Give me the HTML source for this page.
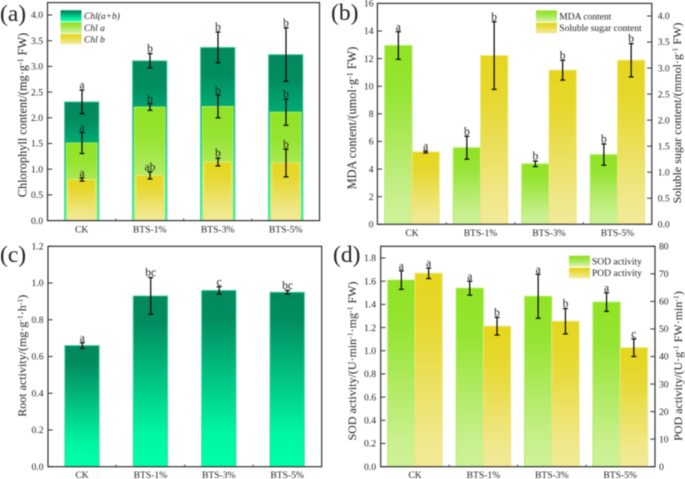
<!DOCTYPE html>
<html><head><meta charset="utf-8"><title>Chart</title>
<style>
html,body{margin:0;padding:0;background:#fff}
svg{display:block;filter:blur(0.4px)}
text{font-family:"Liberation Serif",serif;fill:#222}
</style></head>
<body>
<svg id="chart" xmlns="http://www.w3.org/2000/svg" width="685" height="479" viewBox="0 0 685 479">
<defs>
<linearGradient id="gDark" x1="0" y1="0" x2="0" y2="1"><stop offset="0" stop-color="#028a5e"/><stop offset="0.15" stop-color="#028c60"/><stop offset="0.8" stop-color="#00f5a3"/><stop offset="1" stop-color="#00ffaa"/></linearGradient>
<linearGradient id="gGreen" x1="0" y1="0" x2="0" y2="1"><stop offset="0" stop-color="#90e324"/><stop offset="0.25" stop-color="#96e432"/><stop offset="0.85" stop-color="#c8f08e"/><stop offset="1" stop-color="#cdf298"/></linearGradient>
<linearGradient id="gYellow" x1="0" y1="0" x2="0" y2="1"><stop offset="0" stop-color="#e5d61c"/><stop offset="0.25" stop-color="#e6d82e"/><stop offset="0.85" stop-color="#f0e88c"/><stop offset="1" stop-color="#f2ea98"/></linearGradient>
</defs>
</svg>
<script>
const categories = ['CK', 'BTS-1%', 'BTS-3%', 'BTS-5%'];

const chlTotal = [2.31, 3.11, 3.37, 3.23];
const chlTotalErr = [0.23, 0.14, 0.30, 0.52];
const chlTotalSig = ['a', 'b', 'b', 'b'];
const chlA = [1.51, 2.21, 2.22, 2.11];
const chlAErr = [0.205, 0.065, 0.22, 0.255];
const chlASig = ['a', 'b', 'b', 'b'];
const chlB = [0.80, 0.88, 1.14, 1.12];
const chlBErr = [0.03, 0.07, 0.075, 0.27];
const chlBSig = ['a', 'ab', 'b', 'b'];
const chlTicks = ['0.0', '0.5', '1.0', '1.5', '2.0', '2.5', '3.0', '3.5', '4.0'];

const mda = [12.95, 5.55, 4.38, 5.05];
const mdaErr = [1.0, 0.83, 0.2, 0.77];
const mdaSig = ['a', 'b', 'b', 'b'];
const sugar = [1.39, 3.24, 2.96, 3.15];
const sugarErr = [0.02, 0.65, 0.19, 0.32];
const sugarSig = ['a', 'b', 'b', 'b'];
const mdaTicks = ['0', '2', '4', '6', '8', '10', '12', '14', '16'];
const sugarTicks = ['0.0', '0.5', '1.0', '1.5', '2.0', '2.5', '3.0', '3.5', '4.0'];

const root = [0.66, 0.93, 0.96, 0.95];
const rootErr = [0.015, 0.10, 0.02, 0.01];
const rootSig = ['a', 'bc', 'c', 'bc'];
const rootTicks = ['0.0', '0.2', '0.4', '0.6', '0.8', '1.0', '1.2'];

const sod = [1.61, 1.54, 1.47, 1.42];
const sodErr = [0.08, 0.06, 0.19, 0.08];
const sodSig = ['a', 'a', 'a', 'a'];
const pod = [70.2, 51.0, 52.8, 43.2];
const podErr = [1.9, 3.2, 4.6, 3.2];
const podSig = ['a', 'b', 'b', 'c'];
const sodTicks = ['0.0', '0.2', '0.4', '0.6', '0.8', '1.0', '1.2', '1.4', '1.6', '1.8'];
const podTicks = ['0', '10', '20', '30', '40', '50', '60', '70', '80'];

const svg = document.getElementById('chart');
const NS = 'http://www.w3.org/2000/svg';
const TICK_COLOR = '#333';

function make(tag, name, attrs, txt) {
  const el = document.createElementNS(NS, tag);
  
  
  for (const k in attrs) el.setAttribute(k, attrs[k]);
  if (txt !== undefined) el.textContent = txt;
  svg.appendChild(el);
  return el;
}
function linearScale(d0, d1, r0, r1) {
  return v => r0 + (v - d0) * (r1 - r0) / (d1 - d0);
}
function frame(name, x0, y0, x1, y1) {
  make('rect', name + '-frame', {x: x0, y: y0, width: x1 - x0, height: y1 - y0, fill: 'none', stroke: TICK_COLOR, 'stroke-width': 1.2});
}
function xAxis(name, cx, y, baseline) {
  const step = cx(1) - cx(0);
  categories.forEach((c, i) => {
    make('text', name + '-x-label-' + c, {x: cx(i), y: baseline, 'text-anchor': 'middle', 'font-size': 9.6}, c);
    if (i < categories.length - 1) {
      make('line', name + '-x-tick-' + i, {x1: cx(i) + step / 2, x2: cx(i) + step / 2, y1: y, y2: y - 2, stroke: TICK_COLOR, 'stroke-width': 1});
    }
  });
}
function yAxis(name, ticks, scale, axisX, dir, labelX, anchor) {
  ticks.forEach(t => {
    const y = scale(parseFloat(t));
    make('line', name + '-tick-' + t, {x1: axisX, x2: axisX + dir * 4.7, y1: y, y2: y, stroke: TICK_COLOR, 'stroke-width': 1});
    make('text', name + '-tick-label-' + t, {x: labelX, y: y + 3.2, 'text-anchor': anchor, 'font-size': 9.6}, t);
  });
}
function bar(name, cx, w, v, scale, fill, edge) {
  const top = scale(v), base = scale(0);
  make('rect', name, {x: cx - w / 2, y: top, width: w, height: base - top, fill: 'url(#' + fill + ')', stroke: edge, 'stroke-width': 0.9});
}
function errorBar(name, cx, v, err, scale, sig) {
  const hi = scale(v + err), lo = scale(v - err);
  make('line', name + '-error-stem', {x1: cx, x2: cx, y1: hi, y2: lo, stroke: '#000', 'stroke-width': 1.2});
  make('line', name + '-error-cap-top', {x1: cx - 2.5, x2: cx + 2.5, y1: hi, y2: hi, stroke: '#000', 'stroke-width': 1.2});
  make('line', name + '-error-cap-bottom', {x1: cx - 2.5, x2: cx + 2.5, y1: lo, y2: lo, stroke: '#000', 'stroke-width': 1.2});
  make('text', name + '-significance', {x: cx, y: hi - 1.4, 'text-anchor': 'middle', 'font-size': 11.5}, sig);
}
function rotated(name, x, y, size, parts) {
  const t = make('text', name, {transform: 'translate(' + x + ',' + y + ') rotate(-90)', 'text-anchor': 'middle', 'font-size': size});
  let shift = 0;
  parts.forEach(p => {
    const s = document.createElementNS(NS, 'tspan');
    s.textContent = p[0];
    const sup = p[1] === 1;
    const dy = sup ? -3.5 : 0;
    s.setAttribute('dy', dy - shift);
    shift = dy;
    if (sup) s.setAttribute('font-size', size * 0.65);
    t.appendChild(s);
  });
  return t;
}
function panelLabel(name, x, y, txt) {
  make('text', name, {x: x, y: y, 'font-size': 23.5}, txt);
}
function legendEntry(name, x, y, w, h, fill, tx, ty, txt, italic) {
  make('rect', name + '-swatch', {x: x, y: y, width: w, height: h, fill: 'url(#' + fill + ')'});
  const a = {x: tx, y: ty, 'font-size': 9.5};
  if (italic) a['font-style'] = 'italic';
  make('text', name + '-label', a, txt);
}

/* Panel (a) */
(function () {
  const y = linearScale(0, 4, 220.6, 15);
  const cx = i => 81.7 + 68 * i;
  categories.forEach((c, i) => {
    bar('chl-total-bar-' + c, cx(i), 34.5, chlTotal[i], y, 'gDark', '#5cd2ae');
    bar('chl-a-bar-' + c, cx(i), 31, chlA[i], y, 'gGreen', '#b4ec66');
    bar('chl-b-bar-' + c, cx(i), 27.5, chlB[i], y, 'gYellow', '#efe67a');
  });
  categories.forEach((c, i) => {
    errorBar('chl-total-' + c, cx(i) + 0.3, chlTotal[i], chlTotalErr[i], y, chlTotalSig[i]);
    errorBar('chl-a-' + c, cx(i) + 0.3, chlA[i], chlAErr[i], y, chlASig[i]);
    errorBar('chl-b-' + c, cx(i) + 0.3, chlB[i], chlBErr[i], y, chlBSig[i]);
  });
  frame('panel-a', 47.5, 2.6, 319.5, 220.6);
  xAxis('panel-a', cx, 220.6, 232.5);
  yAxis('panel-a-y', chlTicks, y, 47.5, 1, 43, 'end');
  rotated('panel-a-y-title', 26.5, 115, 12.3, [['Chlorophyll content/(mg·g'], ['-1', 1], [' FW)']]);
  panelLabel('panel-a-label', 0, 21, '(a)');
  legendEntry('legend-chl-total', 60.5, 10.2, 21, 11, 'gDark', 84, 19, 'Chl(a+b)', true);
  legendEntry('legend-chl-a', 60.5, 22.2, 21, 11, 'gGreen', 84, 31, 'Chl a', true);
  legendEntry('legend-chl-b', 60.5, 34, 21, 10.2, 'gYellow', 84, 42.5, 'Chl b', true);
})();

/* Panel (b) */
(function () {
  const yL = linearScale(0, 16, 224.3, 3.4);
  const yR = linearScale(0, 4, 224.3, 16);
  const cx = i => 412 + 68.5 * i;
  const w = 27.3;
  categories.forEach((c, i) => {
    bar('mda-bar-' + c, cx(i) - w / 2, w, mda[i], yL, 'gGreen', '#b4ec66');
    bar('sugar-bar-' + c, cx(i) + w / 2, w, sugar[i], yR, 'gYellow', '#efe67a');
    errorBar('mda-' + c, cx(i) - w / 2, mda[i], mdaErr[i], yL, mdaSig[i]);
    errorBar('sugar-' + c, cx(i) + w / 2, sugar[i], sugarErr[i], yR, sugarSig[i]);
  });
  frame('panel-b', 377.4, 3.4, 651.8, 224.3);
  xAxis('panel-b', cx, 224.3, 236);
  yAxis('panel-b-left-y', mdaTicks, yL, 377.4, 1, 373.5, 'end');
  yAxis('panel-b-right-y', sugarTicks, yR, 651.8, -1, 657.7, 'start');
  rotated('panel-b-left-title', 356, 118, 12.3, [['MDA content/(umol·g'], ['-1', 1], [' FW)']]);
  rotated('panel-b-right-title', 681, 113, 12, [['Soluble sugar content/(mmol·g'], ['-1', 1], [' FW)']]);
  panelLabel('panel-b-label', 331, 20, '(b)');
  legendEntry('legend-mda', 536, 10.4, 21, 11.2, 'gGreen', 559.3, 19.5, 'MDA content', false);
  legendEntry('legend-sugar', 536, 22.7, 21, 10.6, 'gYellow', 559.3, 31, 'Soluble sugar content', false);
})();

/* Panel (c) */
(function () {
  const y = linearScale(0, 1.2, 466.7, 246.3);
  const cx = i => 82 + 68.4 * i;
  categories.forEach((c, i) => {
    bar('root-bar-' + c, cx(i), 34.5, root[i], y, 'gDark', '#5cd2ae');
    errorBar('root-' + c, cx(i) + 0.3, root[i], rootErr[i], y, rootSig[i]);
  });
  frame('panel-c', 48, 246.3, 321.7, 466.7);
  xAxis('panel-c', cx, 466.7, 478);
  yAxis('panel-c-y', rootTicks, y, 48, 1, 43.5, 'end');
  rotated('panel-c-y-title', 26, 355.7, 12, [['Root activity/(mg·g'], ['-1', 1], ['·h'], ['-1', 1], [')']]);
  panelLabel('panel-c-label', 0, 262, '(c)');
})();

/* Panel (d) */
(function () {
  const yL = linearScale(0, 1.8, 466.7, 258);
  const yR = linearScale(0, 80, 466.7, 246.3);
  const cx = i => 415 + 68.4 * i;
  const w = 27.3;
  categories.forEach((c, i) => {
    bar('sod-bar-' + c, cx(i) - w / 2, w, sod[i], yL, 'gGreen', '#b4ec66');
    bar('pod-bar-' + c, cx(i) + w / 2, w, pod[i], yR, 'gYellow', '#efe67a');
    errorBar('sod-' + c, cx(i) - w / 2, sod[i], sodErr[i], yL, sodSig[i]);
    errorBar('pod-' + c, cx(i) + w / 2, pod[i], podErr[i], yR, podSig[i]);
  });
  frame('panel-d', 380.7, 246.3, 655, 466.7);
  xAxis('panel-d', cx, 466.7, 478);
  yAxis('panel-d-left-y', sodTicks, yL, 380.7, 1, 376, 'end');
  yAxis('panel-d-right-y', podTicks, yR, 655, -1, 659, 'start');
  rotated('panel-d-left-title', 356, 361, 12, [['SOD activity/(U·min'], ['-1', 1], ['·mg'], ['-1', 1], [' FW)']]);
  rotated('panel-d-right-title', 682, 366, 12, [['POD activity/(U·g'], ['-1', 1], [' FW·min'], ['-1', 1], [')']]);
  panelLabel('panel-d-label', 333, 262, '(d)');
  legendEntry('legend-sod', 569, 255.7, 21, 10.6, 'gGreen', 592, 264.5, 'SOD activity', false);
  legendEntry('legend-pod', 569, 267.7, 21, 10.6, 'gYellow', 592, 276, 'POD activity', false);
})();
</script>
</body></html>
